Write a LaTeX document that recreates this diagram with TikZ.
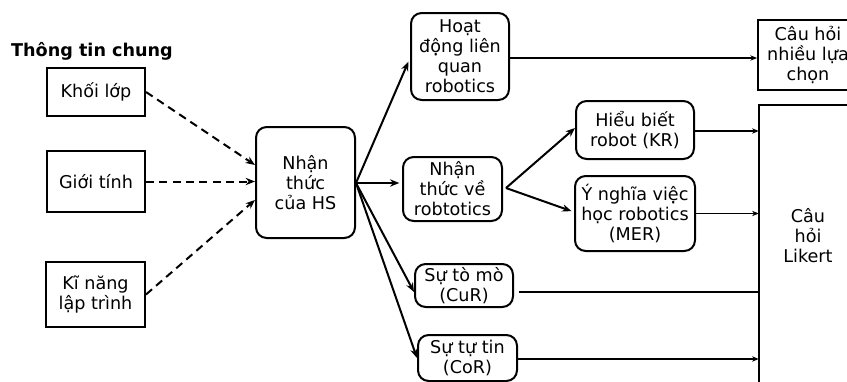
\documentclass[tikz,border=0pt]{standalone}
\usepackage{fontspec}
\setmainfont{DejaVu Sans}
\usetikzlibrary{arrows.meta,calc}
\begin{document}
\begin{tikzpicture}[x=0.75pt,y=-0.75pt,
  txt/.style={font=\fontsize{13.2}{15}\selectfont, align=center, inner sep=0pt},
  sz/.style 2 args={minimum width=#1*0.75pt, minimum height=#2*0.75pt},
  sqbox/.style={txt, draw, line width=1.5pt},
  rbox/.style={sqbox, rounded corners=8pt},
  mainarrow/.style={line width=1.5pt, -{Stealth[length=7pt,width=5.5pt]}},
  dasharrow/.style={line width=1.5pt, dash pattern=on 6pt off 4pt, -{Stealth[length=7pt,width=5.5pt]}},
  thinarrow/.style={line width=0.8pt, -{Stealth[length=5pt,width=4pt]}},
  thinline/.style={line width=0.8pt}
]
\useasboundingbox (0,0) rectangle (847,382);
\clip (0,0) rectangle (847,382);

% title
\node[font=\fontsize{13.2}{15}\selectfont\bfseries, inner sep=0pt] (title) at (92,51) {Thông tin chung};

% left boxes
\node[sqbox, sz={98}{48}] (khoi) at (96,92) {Khối lớp};
\node[sqbox, sz={98}{61}] (gioi) at (96,181.5) {Giới tính};
\node[sqbox, sz={99}{65}] (kinang) at (95.5,294.5) {Kĩ năng\\lập trình};

% central
\node[rbox, sz={99}{111}] (nhan) at (305.5,182.5) {Nhận\\thức\\của HS};

% middle column
\node[rbox, sz={98}{87}] (hoat) at (460,56.5) {Hoạt\\động liên\\quan\\robotics};
\node[rbox, sz={99}{64}] (nhanve) at (452.5,189) {Nhận\\thức về\\robtotics};
\node[rbox, sz={98}{43}] (cur) at (464,285.5) {Sự tò mò\\(CuR)};
\node[rbox, sz={99}{46}] (cor) at (467.5,358) {Sự tự tin\\(CoR)};

% sub boxes
\node[rbox, sz={118}{58}] (kr) at (635,130) {Hiểu biết\\robot (KR)};
\node[rbox, sz={120}{75}] (mer) at (635,213.5) {Ý nghĩa việc\\học robotics\\(MER)};

% right boxes (cut by the page edge)
\node[sqbox, sz={100}{70}] (mcq) at (808,55) {Câu hỏi\\nhiều lựa\\chọn};
\node[txt, sz={98}{262}] (likert) at (808,236) {Câu\\hỏi\\Likert};
\coordinate (lkTop) at (likert.north west);
\coordinate (lkBot) at ($(likert.north west)+(0,300)$);
\coordinate (lkRight) at ($(likert.north west)+(120,0)$);
\draw[line width=1.5pt] (lkBot) -- (lkTop) -- (lkRight);

% dashed connectors
\coordinate (nW1) at ($(nhan.west)+(0,-17.5)$);
\coordinate (nW3) at ($(nhan.west)+(0,17.5)$);
\draw[dasharrow] (khoi.east) -- (nW1);
\draw[dasharrow] (gioi.east) -- (gioi.east -| nhan.west);
\draw[dasharrow] (kinang.east) -- (nW3);

% main arrows
\coordinate (nE) at ($(nhan.east)+(0,0.5)$);
\coordinate (hoatIn) at ($(hoat.west)+(0,1.5)$);
\coordinate (curIn) at ($(cur.west)+(0,6.5)$);
\draw[mainarrow, shorten >=3pt] (nE) -- (hoatIn);
\draw[mainarrow, shorten >=2pt] (nE) -- (nE -| nhanve.west);
\draw[mainarrow] (nE) -- (curIn);
\draw[mainarrow] (nE) -- (cor.west);

\coordinate (vE) at ($(nhanve.east)+(3,-1)$);
\coordinate (krIn) at ($(kr.west)+(0,-2)$);
\coordinate (merIn) at ($(mer.west)+(0,-1.5)$);
\draw[mainarrow] (vE) -- (krIn);
\draw[mainarrow, shorten >=2pt] (vE) -- (merIn);

% thin connectors
\coordinate (hoatOut) at ($(hoat.east)+(0,1.5)$);
\coordinate (krOut) at ($(kr.east)+(0,1)$);
\coordinate (curOut) at ($(cur.east)+(5,6.5)$);
\coordinate (corOut) at ($(cor.east)+(0,1)$);
\draw[thinarrow] (hoatOut) -- (hoatOut -| mcq.west);
\draw[thinarrow] (krOut) -- (krOut -| likert.west);
\draw[thinarrow] (mer.east) -- (mer.east -| likert.west);
\draw[thinline] (curOut) -- (curOut -| likert.west);
\draw[thinarrow] (corOut) -- (corOut -| likert.west);
\end{tikzpicture}
\end{document}
